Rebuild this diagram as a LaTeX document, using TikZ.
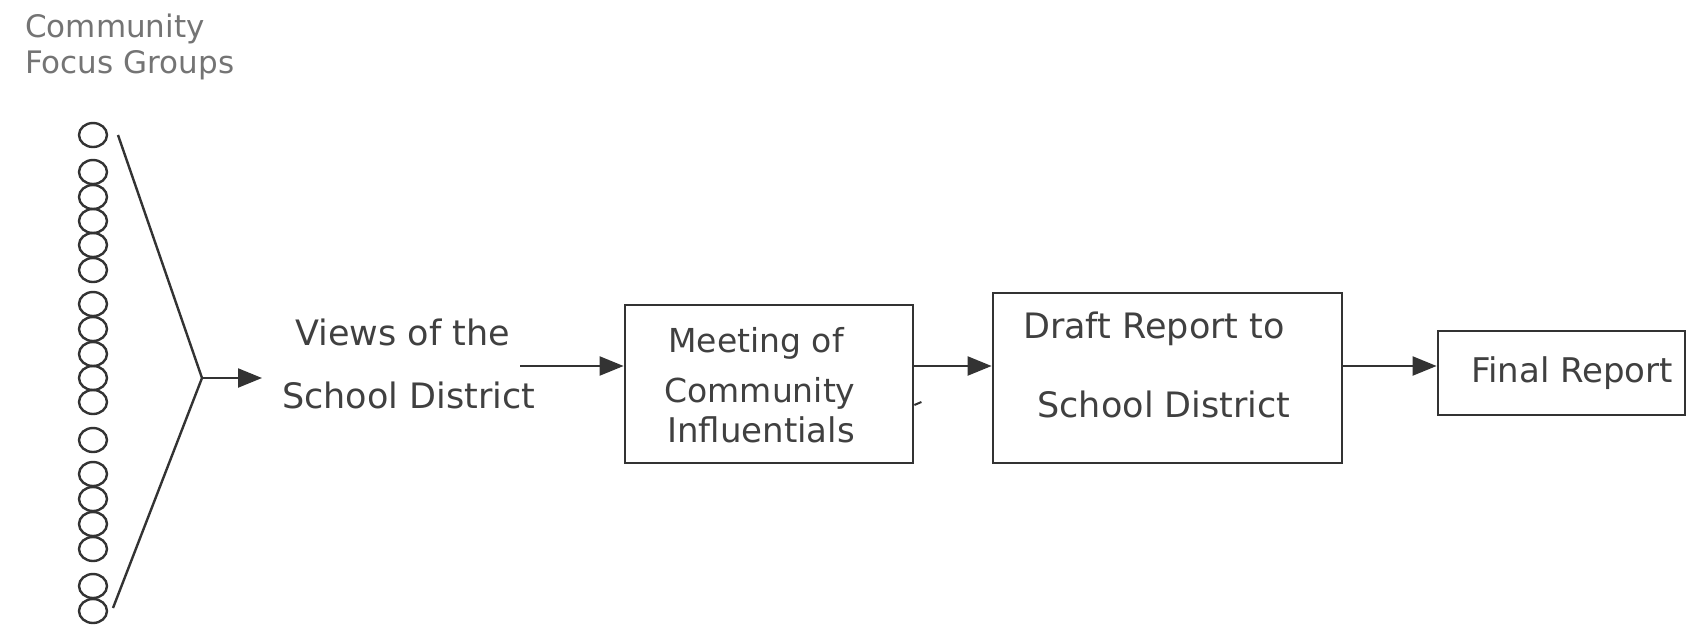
\documentclass[tikz,border=0pt]{standalone}
\usepackage{fontspec}
\setmainfont{DejaVu Sans}
\usetikzlibrary{arrows.meta,shapes.geometric}
\definecolor{ink}{HTML}{333333}
\definecolor{txtgray}{HTML}{404040}
\definecolor{lightgray}{HTML}{747474}
\tikzset{
  ring/.style={ellipse, draw=ink, line width=2.4pt, minimum width=28pt, minimum height=24pt, inner sep=0pt},
  flowbox/.style={rectangle, draw=ink, line width=2.8pt, inner sep=0pt},
  label/.style={text=txtgray, inner sep=0pt},
  heading/.style={text=lightgray, inner sep=0pt, font=\fontsize{31}{37}\selectfont},
  funnel/.style={draw=ink, line width=2.4pt},
  flow/.style={draw=ink, line width=2.2pt, -{Triangle[length=24pt,width=19pt]}}
}
\begin{document}
\begin{tikzpicture}[x=1pt,y=-1pt]
\useasboundingbox[fill=white] (0,0) rectangle (1697,632);

% heading
\node[heading, anchor=base west] (h1) at (25,37) {Community};
\node[heading, anchor=base west] (h2) at (25,73) {Focus Groups};

% column of focus groups
\foreach \i/\y in {1/135, 2/172, 3/197, 4/221, 5/245, 6/270,
                   7/304, 8/329, 9/354, 10/378, 11/402, 12/440,
                   13/474, 14/499, 15/524, 16/549, 17/586, 18/611}
  \node[ring] (c\i) at (93,\y) {};

% converging lines
\coordinate (ftop) at (118,135);
\coordinate (apex) at (202,378);
\coordinate (fbot) at (113,608);
\draw[funnel] (ftop) -- (apex) -- (fbot);
\coordinate (viewsin) at (262,378);
\draw[flow] (apex) -- (viewsin);

% views
\node[label, anchor=base west, font=\fontsize{35}{42}\selectfont] (v1) at (295,345) {Views of the};
\node[label, anchor=base west, font=\fontsize{35}{42}\selectfont] (v2) at (282,408) {School District};
\coordinate (viewsout) at (520,366);

% boxes
\node[flowbox, minimum width=288pt, minimum height=158pt] (m1) at (769,384) {};
\node[flowbox, minimum width=349pt, minimum height=170pt] (d) at (1167.5,378) {};
\node[flowbox, minimum width=247pt, minimum height=84pt] (f) at (1561.5,373) {};

% box texts
\node[label, anchor=base, font=\fontsize{33}{40}\selectfont] (m1a) at (756,352) {Meeting of};
\node[label, anchor=base, font=\fontsize{33}{40}\selectfont] (m1b) at (760,402) {Community};
\node[label, anchor=base, font=\fontsize{34}{40}\selectfont] (m1c) at (761,442) {Influentials};
\node[label, anchor=base, font=\fontsize{35}{42}\selectfont] (d1) at (1154,338) {Draft Report to};
\node[label, anchor=base, font=\fontsize{35}{42}\selectfont] (d2) at (1164,417) {School District};
\node[label, anchor=base, font=\fontsize{34}{40}\selectfont] (f1) at (1572,382) {Final Report};

% small tick on the right side of the first box
\draw[ink, line width=2pt] ([yshift=-21pt]m1.east) -- ++(7,-3);

% flow arrows
\draw[flow] (viewsout) -- (viewsout -| m1.west);
\draw[flow] (m1.east |- viewsout) -- (d.west |- viewsout);
\draw[flow] (d.east |- viewsout) -- (f.west |- viewsout);
\end{tikzpicture}
\end{document}
